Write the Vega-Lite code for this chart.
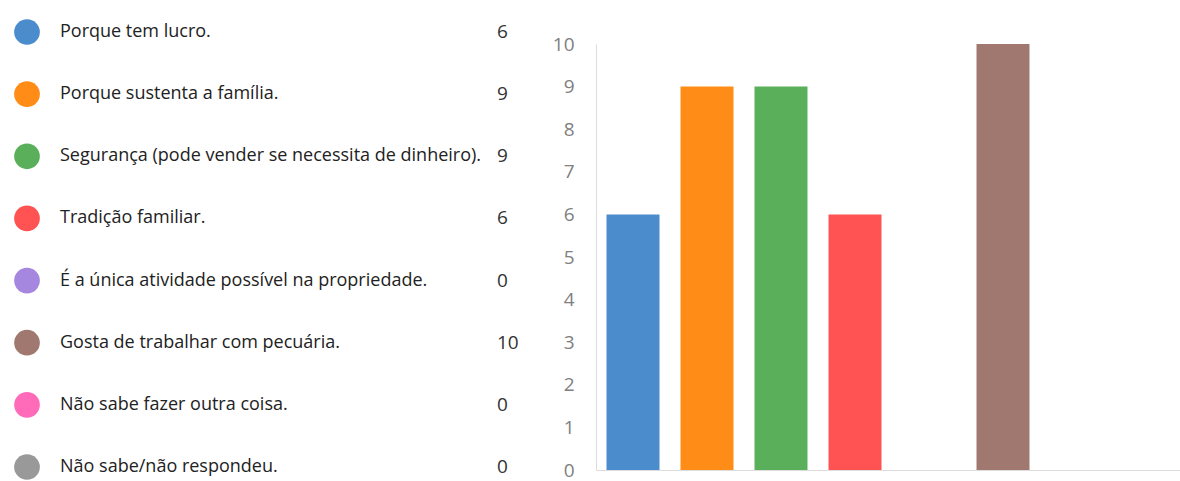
{
  "$schema": "https://vega.github.io/schema/vega-lite/v6.json",
  "padding": {"top": 19, "left": 0, "right": 0, "bottom": 6},
  "bounds": "flush",
  "background": "white",
  "config": {"view": {"stroke": null}, "concat": {"spacing": 40}},
  "datasets": {
    "resp": [
      {"opcao": "Porque tem lucro.", "n": 6},
      {"opcao": "Porque sustenta a família.", "n": 9},
      {"opcao": "Segurança (pode vender se necessita de dinheiro).", "n": 9},
      {"opcao": "Tradição familiar.", "n": 6},
      {"opcao": "É a única atividade possível na propriedade.", "n": 0},
      {"opcao": "Gosta de trabalhar com pecuária.", "n": 10},
      {"opcao": "Não sabe fazer outra coisa.", "n": 0},
      {"opcao": "Não sabe/não respondeu.", "n": 0}
    ]
  },
  "hconcat": [
    {
      "width": 556,
      "height": 426,
      "data": {"name": "resp"},
      "encoding": {
        "y": {"field": "opcao", "type": "nominal", "sort": null, "scale": {"type": "point", "range": [-12, 423], "padding": 0}, "axis": null}
      },
      "layer": [
        {
          "mark": {"type": "circle", "size": 660, "opacity": 1},
          "encoding": {
            "x": {"datum": 27, "type": "quantitative", "scale": {"domain": [0, 556], "nice": false, "zero": false}, "axis": null},
            "color": {
              "field": "opcao", "type": "nominal", "sort": null,
              "scale": {
                "domain": ["Porque tem lucro.", "Porque sustenta a família.", "Segurança (pode vender se necessita de dinheiro).", "Tradição familiar.", "É a única atividade possível na propriedade.", "Gosta de trabalhar com pecuária.", "Não sabe fazer outra coisa.", "Não sabe/não respondeu."],
                "range": ["#4a8ccc", "#ff8c17", "#5ab05a", "#ff5252", "#a587e0", "#a0786f", "#ff6ab9", "#999999"]
              },
              "legend": null
            }
          }
        },
        {
          "mark": {"type": "text", "align": "left", "baseline": "middle", "fontSize": 18, "font": "Open Sans", "color": "#222222"},
          "encoding": {
            "x": {"datum": 60, "type": "quantitative", "scale": {"domain": [0, 556], "nice": false, "zero": false}, "axis": null},
            "text": {"field": "opcao"}
          }
        },
        {
          "mark": {"type": "text", "align": "left", "baseline": "middle", "fontSize": 19, "font": "Open Sans", "color": "#333333"},
          "encoding": {
            "x": {"datum": 497, "type": "quantitative", "scale": {"domain": [0, 556], "nice": false, "zero": false}, "axis": null},
            "text": {"field": "n"}
          }
        }
      ]
    },
    {
      "width": 592,
      "height": 426,
      "data": {"name": "resp"},
      "mark": {"type": "bar"},
      "encoding": {
        "x": {
          "field": "opcao", "type": "nominal", "sort": null,
          "scale": {"paddingInner": 0.284, "paddingOuter": 0.142},
          "axis": {"labels": false, "ticks": false, "title": null, "domainColor": "#dddddd"}
        },
        "y": {
          "field": "n", "type": "quantitative",
          "scale": {"domain": [0, 10], "nice": false},
          "axis": {"values": [0, 1, 2, 3, 4, 5, 6, 7, 8, 9, 10], "title": null, "grid": false, "ticks": false, "domainColor": "#dddddd", "labelColor": "#808080", "labelFontSize": 19, "labelPadding": 22, "labelFont": "Open Sans"}
        },
        "color": {
          "field": "opcao", "type": "nominal", "sort": null,
          "scale": {
            "domain": ["Porque tem lucro.", "Porque sustenta a família.", "Segurança (pode vender se necessita de dinheiro).", "Tradição familiar.", "É a única atividade possível na propriedade.", "Gosta de trabalhar com pecuária.", "Não sabe fazer outra coisa.", "Não sabe/não respondeu."],
            "range": ["#4a8ccc", "#ff8c17", "#5ab05a", "#ff5252", "#a587e0", "#a0786f", "#ff6ab9", "#999999"]
          },
          "legend": null
        }
      }
    }
  ]
}
